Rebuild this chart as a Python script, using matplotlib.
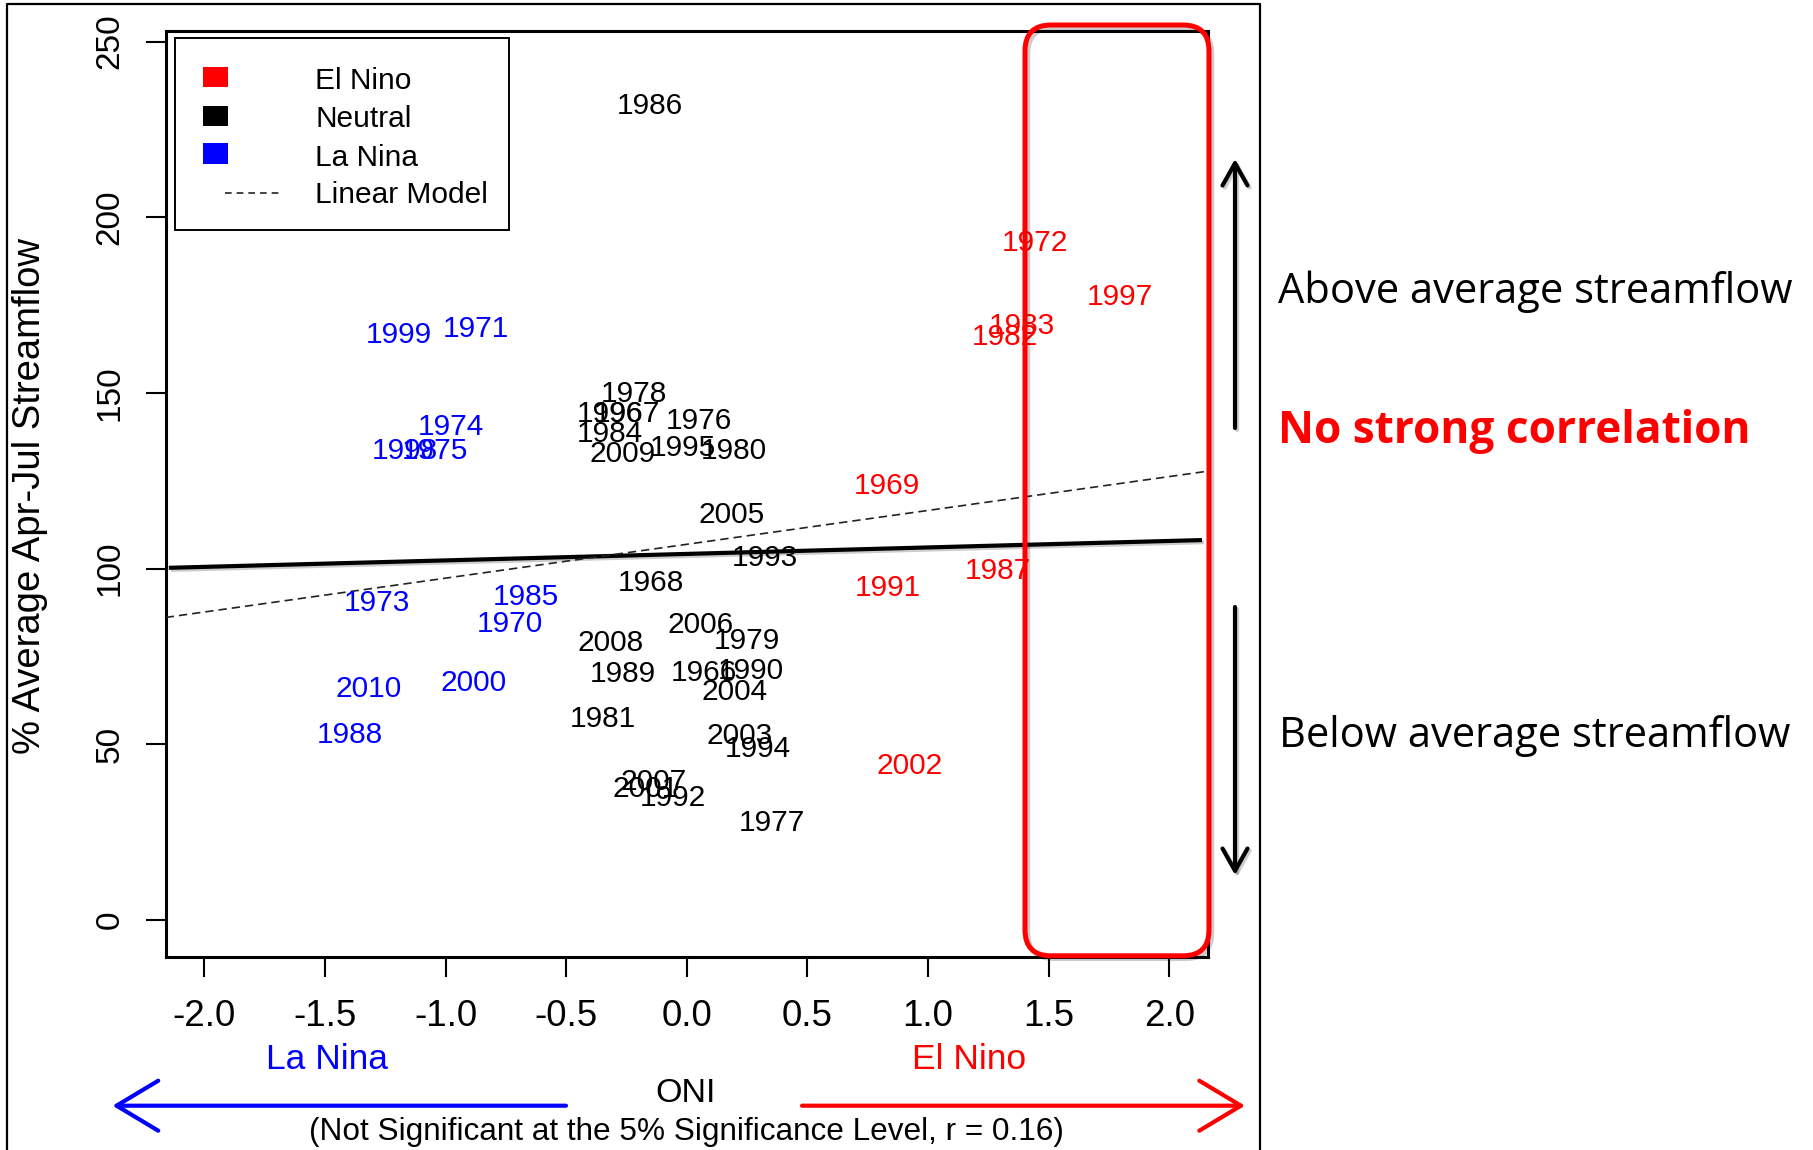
import matplotlib
matplotlib.use("Agg")
import matplotlib.pyplot as plt
import matplotlib.transforms as mtransforms
import matplotlib.patheffects as pe
from matplotlib.patches import Rectangle, FancyBboxPatch, FancyArrowPatch
from matplotlib.lines import Line2D

plt.rcParams["font.family"] = ["Liberation Sans", "DejaVu Sans"]

# ---------------- data ----------------
el_years = [1972, 1997, 1983, 1982, 1969, 1991, 1987, 2002]
el_oni = [1.442, 1.793, 1.388, 1.318, 0.830, 0.835, 1.291, 0.924]
el_flow = [193.3, 177.9, 169.8, 166.5, 124.3, 95.3, 100.1, 44.6]

la_years = [1999, 1971, 1974, 1998, 1975, 1973, 1985, 1970, 2010, 2000, 1988]
la_oni = [-1.192, -0.874, -0.978, -1.167, -1.045, -1.286, -0.667, -0.735, -1.318, -0.885, -1.397]
la_flow = [167.1, 168.8, 140.9, 134.2, 134.2, 91.0, 92.6, 84.9, 66.5, 68.1, 53.2]

ne_years = [1986, 1978, 1996, 1967, 1976, 1984, 2009, 1995, 1980, 2005, 1993, 1968, 2006,
            1979, 2008, 1989, 1966, 1990, 2004, 1981, 2003, 1994, 2007, 2001, 1992, 1977]
ne_oni = [-0.155, -0.219, -0.318, -0.249, 0.051, -0.321, -0.267, -0.018, 0.194, 0.185, 0.324,
          -0.149, 0.058, 0.249, -0.315, -0.267, 0.072, 0.266, 0.199, -0.347, 0.220, 0.295,
          -0.136, -0.170, -0.057, 0.351]
ne_flow = [232.3, 150.3, 144.6, 144.6, 142.8, 139.0, 133.3, 134.9, 134.2, 115.9, 103.8,
           96.7, 84.7, 80.1, 79.6, 70.6, 70.9, 71.6, 65.6, 58.0, 53.1, 49.3,
           40.0, 37.9, 35.5, 28.4]

# linear model (dashed) and solid fit line
lm_intercept, lm_slope = 106.9, 9.64
fit_intercept, fit_slope = 104.16, 1.845
fit_x_range = [-2.147, 2.135]

xticks = [-2.0, -1.5, -1.0, -0.5, 0.0, 0.5, 1.0, 1.5, 2.0]
xtick_labels = ["-2.0", "-1.5", "-1.0", "-0.5", "0.0", "0.5", "1.0", "1.5", "2.0"]
yticks = [0, 50, 100, 150, 200, 250]
ytick_labels = ["0", "50", "100", "150", "200", "250"]

legend_labels = ["El Nino", "Neutral", "La Nina", "Linear Model"]
legend_colors = ["red", "black", "blue"]

# ---------------- figure ----------------
W, H = 1813, 1150
fig = plt.figure(figsize=(W / 100, H / 100), dpi=100)


def fx(x):
    return x / W


def fy(y):
    return 1 - y / H


ax = fig.add_axes([fx(165.7), fy(956.7), (1208 - 165.7) / W, (956.7 - 30.7) / H])
ax.set_xlim(-2.16, 2.16)
ax.set_ylim(-10.5, 253.1)
for s in ax.spines.values():
    s.set_linewidth(2.2)

ax.set_xticks(xticks)
ax.set_xticklabels(xtick_labels, fontsize=26.5)
ax.set_yticks(yticks)
ax.set_yticklabels(ytick_labels, fontsize=24, rotation=90, va="center")
ax.tick_params(axis="both", direction="out", length=14.4, width=1.5)
ax.tick_params(axis="x", pad=16)
ax.tick_params(axis="y", pad=14.5)

# year labels
off = mtransforms.offset_copy(ax.transData, fig=fig, y=-7.6, units="points")
for xs, ys, yrs, col in [(el_oni, el_flow, el_years, "red"),
                         (ne_oni, ne_flow, ne_years, "black"),
                         (la_oni, la_flow, la_years, "blue")]:
    for x, y, yr in zip(xs, ys, yrs):
        ax.text(x, y, str(yr), transform=off, ha="center", va="baseline",
                fontsize=21.5, color=col, zorder=4)

# lines
fx0, fx1 = fit_x_range
ax.plot([fx0, fx1], [fit_intercept + fit_slope * fx0, fit_intercept + fit_slope * fx1],
        color="black", lw=3.0, solid_capstyle="butt", zorder=3,
        path_effects=[pe.SimpleLineShadow(offset=(1.5, -1.5), alpha=0.2), pe.Normal()])
ax.axline((0, lm_intercept), slope=lm_slope, color="#222222", lw=1.2,
          linestyle=(0, (5, 3)), zorder=3)

# legend (drawn manually to match R layout)
fig.add_artist(Rectangle((fx(175), fy(230)), (509.3 - 175) / W, (230 - 38.3) / H,
                         transform=fig.transFigure, fill=False, lw=1.4, ec="black"))
sq_centers = [77, 116, 153.7]
for c, col in zip(sq_centers, legend_colors):
    fig.add_artist(Rectangle((fx(202.7), fy(c + 10.3)), 25 / W, 20.7 / H,
                             transform=fig.transFigure, fc=col, ec="none"))
fig.add_artist(Line2D([fx(225), fx(283)], [fy(192.7), fy(192.7)], transform=fig.transFigure,
                      color="#222222", lw=1.2, linestyle=(0, (4, 3))))
for lab, base in zip(legend_labels, [89.3, 127.3, 165.7, 203.3]):
    fig.text(fx(315), fy(base), lab, fontsize=21.5, va="baseline", ha="left")

# y label
fig.text(fx(30), fy(495.5), "% Average Apr-Jul Streamflow", rotation=90,
         ha="center", va="center", fontsize=27.5)

# bottom texts
fig.text(fx(327), fy(1069), "La Nina", color="blue", fontsize=25.5, ha="center", va="baseline")
fig.text(fx(969), fy(1069), "El Nino", color="red", fontsize=25.5, ha="center", va="baseline")
fig.text(fx(686), fy(1102), "ONI", fontsize=24.5, ha="center", va="baseline")
fig.text(fx(686), fy(1140), "(Not Significant at the 5% Significance Level, r = 0.16)",
         fontsize=22.7, ha="center", va="baseline")

fig.add_artist(FancyArrowPatch(posA=(fx(566), fy(1105.7)), posB=(fx(112.5), fy(1105.7)),
                               transform=fig.transFigure,
                               arrowstyle="->,head_length=30,head_width=18",
                               mutation_scale=1, lw=3, color="blue",
                               shrinkA=0, shrinkB=0))
fig.add_artist(FancyArrowPatch(posA=(fx(802), fy(1105.7)), posB=(fx(1245), fy(1105.7)),
                               transform=fig.transFigure,
                               arrowstyle="->,head_length=30,head_width=18",
                               mutation_scale=1, lw=3, color="red",
                               shrinkA=0, shrinkB=0))

# outer frame around the R plot
fig.add_artist(Line2D([fx(6.5), fx(6.5), fx(1260), fx(1260)], [fy(1150), fy(4), fy(4), fy(1150)],
                      transform=fig.transFigure, color="black", lw=1.6))

# red highlight box
fig.add_artist(FancyBboxPatch((fx(1025), fy(955.8)), (1209 - 1025) / W, (955.8 - 25) / H,
                              boxstyle="round,pad=0,rounding_size=%f" % (26 / W),
                              mutation_aspect=W / H, transform=fig.transFigure,
                              fill=False, ec="red", lw=3.6, zorder=10,
                              path_effects=[pe.SimpleLineShadow(offset=(2, -2), alpha=0.2),
                                            pe.Normal()]))

# vertical arrows on the right
for a, b in [((1235, 428), (1235, 159)), ((1235, 607), (1235, 875))]:
    fig.add_artist(FancyArrowPatch(posA=(fx(a[0]), fy(a[1])), posB=(fx(b[0]), fy(b[1])),
                                   transform=fig.transFigure,
                                   arrowstyle="->,head_length=16,head_width=9",
                                   mutation_scale=1, lw=3, color="black",
                                   shrinkA=0, shrinkB=0,
                                   path_effects=[pe.SimpleLineShadow(offset=(1.5, -1.5), alpha=0.2),
                                                 pe.Normal()]))

# right-side annotations
fig.text(fx(1277.7), fy(302.7), "Above average streamflow", fontsize=30,
         family="Open Sans", va="baseline", ha="left")
fig.text(fx(1278), fy(443.3), "No strong correlation", fontsize=31.8, fontweight="bold",
         color="red", family="Open Sans", va="baseline", ha="left")
fig.text(fx(1278.8), fy(746.7), "Below average streamflow", fontsize=30,
         family="Open Sans", va="baseline", ha="left")

fig.savefig("out.png", dpi=100)
